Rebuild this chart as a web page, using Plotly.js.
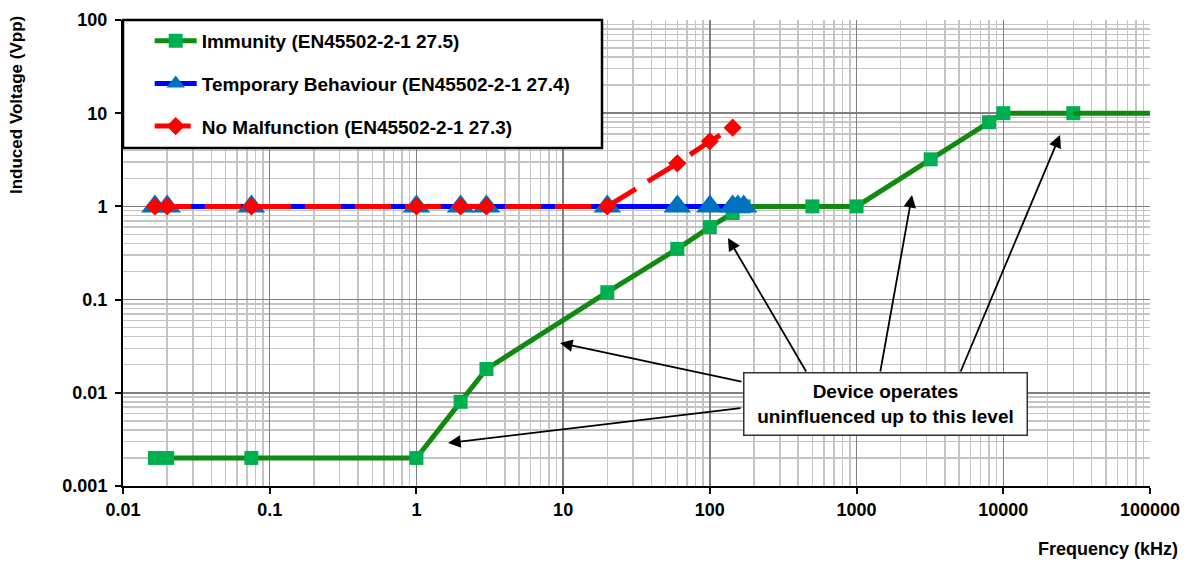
<!DOCTYPE html>
<html>
<head>
<meta charset="utf-8">
<script src="https://cdn.plot.ly/plotly-3.0.1.min.js"></script>
<style>html,body{margin:0;padding:0;background:#fff;}#chart{width:1194px;height:564px;}</style>
</head>
<body>
<div id="chart"></div>
<script>
// ---- data (frequency in kHz, voltage in Vpp) ----
const immFreq = [0.0165, 0.02, 0.075, 1, 2, 3, 20, 60, 100, 143, 170, 500, 1000, 3200, 8000, 10000, 30000];
const immVolt = [0.002, 0.002, 0.002, 0.002, 0.008, 0.018, 0.12, 0.35, 0.6, 0.85, 1, 1, 1, 3.2, 8, 10, 10];
const immTailFreq = [30000, 100000];
const immTailVolt = [10, 10];

const tempFreq = [0.0165, 0.02, 0.075, 1, 2, 3, 20, 60, 100, 143, 155, 170];
const tempVolt = [1, 1, 1, 1, 1, 1, 1, 1, 1, 1, 1, 1];

const nmFreq = [0.0165, 0.02, 0.075, 1, 2, 3, 20, 60, 100, 143];
const nmVolt = [1, 1, 1, 1, 1, 1, 1, 2.9, 5, 7];

const seriesNames = ['Immunity (EN45502-2-1 27.5)', 'Temporary Behaviour (EN45502-2-1 27.4)', 'No Malfunction (EN45502-2-1 27.3)'];
const xTickVals = [0.01, 0.1, 1, 10, 100, 1000, 10000, 100000];
const xTickText = ['0.01', '0.1', '1', '10', '100', '1000', '10000', '100000'];
const yTickVals = [0.001, 0.01, 0.1, 1, 10, 100];
const yTickText = ['0.001', '0.01', '0.1', '1', '10', '100'];
const noteText = 'Device operates<br>uninfluenced up to this level';
const xTitle = 'Frequency (kHz)';
const yTitle = 'Induced Voltage (Vpp)';

// minor grid positions (2..9 within each decade)
function minorVals(d0, d1) {
  const out = [];
  for (let d = d0; d < d1; d++) for (let k = 2; k <= 9; k++) out.push(k * Math.pow(10, d));
  return out;
}

const FONT = 'Liberation Sans, Arial, sans-serif';
const GREEN_LINE = '#128a12', GREEN_MK = '#00b050';

const traces = [
  { x: immFreq, y: immVolt, name: seriesNames[0], legendgroup: 'g1', mode: 'lines+markers',
    line: { color: GREEN_LINE, width: 5 }, marker: { symbol: 'square', size: 14, color: GREEN_MK } },
  { x: immTailFreq, y: immTailVolt, legendgroup: 'g1', showlegend: false, mode: 'lines',
    line: { color: GREEN_LINE, width: 5 }, hoverinfo: 'skip' },
  { x: tempFreq, y: tempVolt, name: seriesNames[1], legendgroup: 'g2', mode: 'lines+markers',
    line: { color: '#0000ff', width: 5 }, marker: { symbol: 'triangle-up', size: 24, color: '#0070c0' } },
  { x: nmFreq, y: nmVolt, name: seriesNames[2], legendgroup: 'g3', mode: 'lines+markers',
    line: { color: '#ff0000', width: 5, dash: '36px,14px' }, marker: { symbol: 'diamond', size: 14, color: '#ff0000' } }
];

const axisCommon = {
  type: 'log', showgrid: true, gridcolor: '#808080', gridwidth: 1.5,
  showline: true, linecolor: '#000', linewidth: 2, mirror: false,
  ticks: 'outside', ticklen: 6, tickwidth: 2, tickcolor: '#000',
  tickmode: 'array', zeroline: false,
  tickfont: { family: FONT, size: 18, weight: 'bold', color: '#000' }
};

// arrows: tip in paper coords, tail offset in px
const arrows = [
  { x: 0.4255, y: 0.3069, ax: 183, ay: 39 },
  { x: 0.3165, y: 0.0923, ax: 294, ay: -35 },
  { x: 0.5891, y: 0.5322, ax: 79, ay: 135 },
  { x: 0.7683, y: 0.6245, ax: -32, ay: 178 },
  { x: 0.9124, y: 0.7532, ax: -100, ay: 238 }
];

const annotations = arrows.map(a => ({
  xref: 'paper', yref: 'paper', x: a.x, y: a.y, ax: a.ax, ay: a.ay,
  text: '', showarrow: true, arrowhead: 2, arrowsize: 1.4, arrowwidth: 1.8, arrowcolor: '#000', standoff: 0
}));
annotations.push({
  xref: 'paper', yref: 'paper', x: 0.742, y: 0.177, xanchor: 'center', yanchor: 'middle',
  text: noteText, showarrow: false, align: 'center', width: 278, height: 57,
  bgcolor: '#fff', bordercolor: '#333', borderwidth: 1.5, borderpad: 2,
  font: { family: FONT, size: 19, weight: 'bold', color: '#000' }
});
annotations.push({
  xref: 'paper', yref: 'paper', x: 1.0292, y: -0.1352, xanchor: 'right', yanchor: 'middle',
  text: xTitle, showarrow: false, font: { family: FONT, size: 18, weight: 'bold', color: '#000' }
});
annotations.push({
  xref: 'paper', yref: 'paper', x: -0.1032, y: 0.8176, xanchor: 'center', yanchor: 'middle',
  text: yTitle, textangle: -90, showarrow: false, font: { family: FONT, size: 17, weight: 'bold', color: '#000' }
});

const layout = {
  width: 1194, height: 564,
  margin: { l: 123, r: 44, t: 20, b: 78, pad: 0 },
  paper_bgcolor: '#fff', plot_bgcolor: '#fff',
  showlegend: true,
  xaxis: Object.assign({}, axisCommon, {
    range: [-2, 5], tickvals: xTickVals, ticktext: xTickText,
    minor: { tickmode: 'array', tickvals: minorVals(-2, 5), showgrid: true, gridcolor: '#c4c4c4', gridwidth: 1.5, ticks: '' }
  }),
  yaxis: Object.assign({}, axisCommon, {
    range: [-3, 2], tickvals: yTickVals, ticktext: yTickText, ticklabelstandoff: 4,
    minor: { tickmode: 'array', tickvals: minorVals(-3, 2), showgrid: true, gridcolor: '#c4c4c4', gridwidth: 1.5, ticks: '' }
  }),
  legend: {
    x: 0.026, y: 0.996, xanchor: 'left', yanchor: 'top',
    bgcolor: 'rgba(0,0,0,0)', borderwidth: 0, tracegroupgap: 15, itemwidth: 42,
    font: { family: FONT, size: 19, weight: 'bold', color: '#000' }
  },
  shapes: [{
    type: 'rect', xref: 'paper', yref: 'paper', x0: 0, x1: 0.4664, y0: 0.7253, y1: 1,
    line: { color: '#000', width: 2.5 }, fillcolor: '#fff', layer: 'above'
  }],
  annotations: annotations
};

Plotly.newPlot('chart', traces, layout, { staticPlot: true, displayModeBar: false });
</script>
</body>
</html>
